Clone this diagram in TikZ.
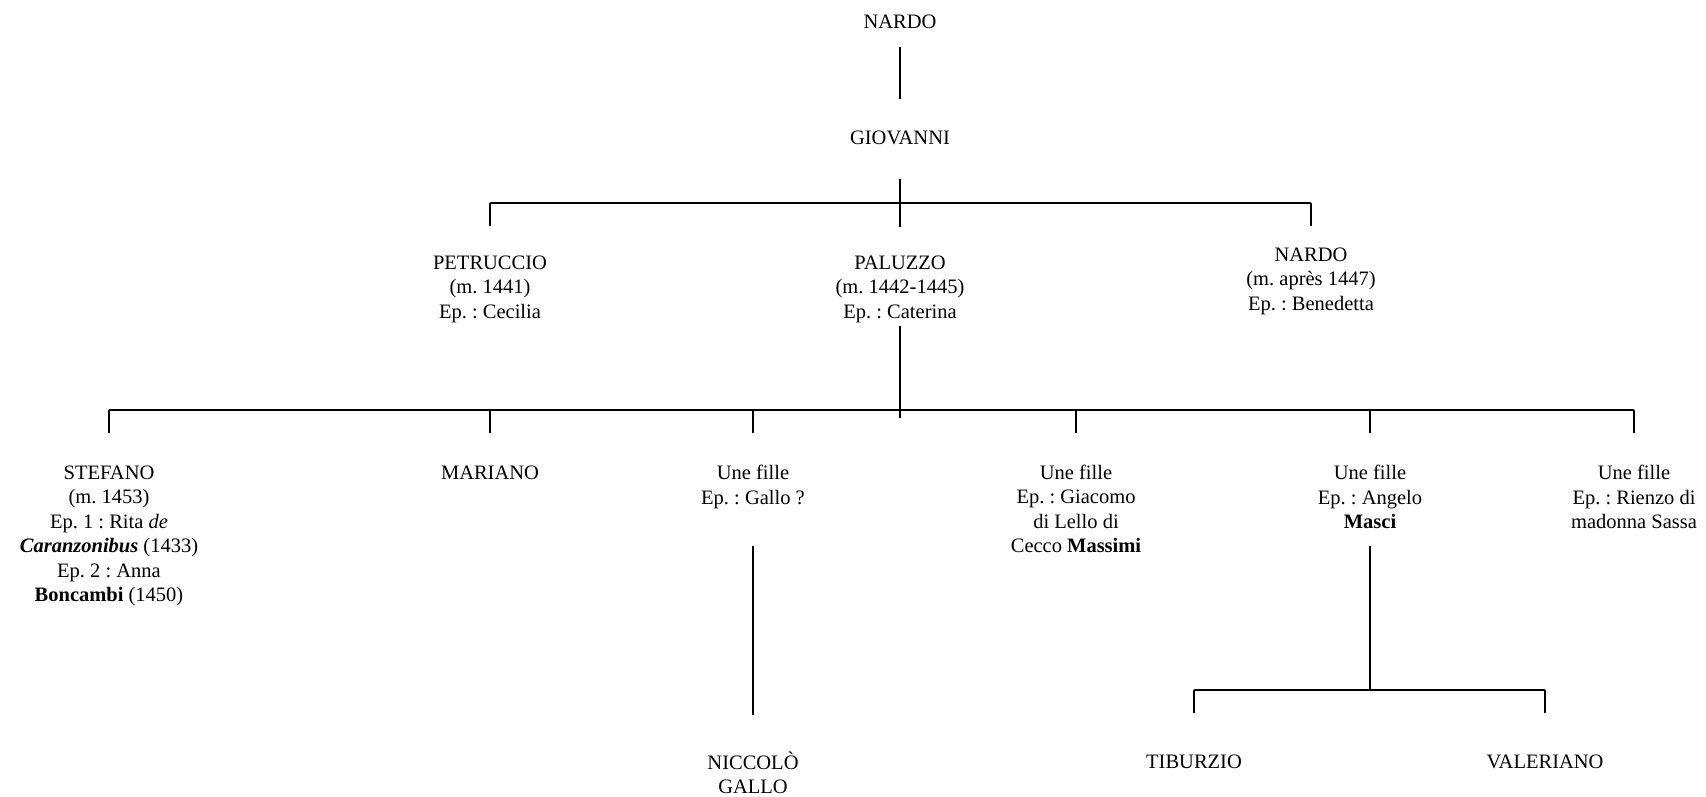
\documentclass[tikz,border=0pt]{standalone}
\usepackage{fontspec}
\setmainfont{Liberation Serif}
\frenchspacing
\begin{document}
\begin{tikzpicture}[
        x=1pt, y=1pt,
        person/.style={align=center, inner sep=0pt, font=\fontsize{20.5}{24.5}\selectfont},
        line/.style={line width=1.5pt, black}
    ]
        \useasboundingbox (0,0) rectangle (1706,797);

        % generations
        \node[person] (nardo) at (900,775) {NARDO};
        \node[person] (giovanni) at (900,659) {GIOVANNI};

        \node[person] (petruccio) at (490,508) {PETRUCCIO\\(m. 1441)\\Ep. : Cecilia};
        \node[person] (paluzzo) at (900,508) {PALUZZO\\(m. 1442-1445)\\Ep. : Caterina};
        \node[person] (nardob) at (1311,516) {NARDO\\(m. après 1447)\\Ep. : Benedetta};

        \node[person] (stefano) at (109,261) {STEFANO\\(m. 1453)\\Ep. 1 : Rita \textit{de}\\\textbf{\textit{Caranzonibus}} (1433)\\Ep. 2 : Anna\\\textbf{Boncambi} (1450)};
        \node[person] (mariano) at (490,324) {MARIANO};
        \node[person] (fillea) at (753,310) {Une fille\\Ep. : Gallo ?};
        \node[person] (filleb) at (1076,288) {Une fille\\Ep. : Giacomo\\di Lello di\\Cecco \textbf{Massimi}};
        \node[person] (fillec) at (1370,300) {Une fille\\Ep. : Angelo\\\textbf{Masci}};
        \node[person] (filled) at (1634,300) {Une fille\\Ep. : Rienzo di\\madonna Sassa};

        \node[person] (niccolo) at (753,24) {NICCOLÒ\\GALLO};
        \node[person] (tiburzio) at (1194,35) {TIBURZIO};
        \node[person] (valeriano) at (1545,35) {VALERIANO};

        % bars
        \coordinate (bara) at (900,594);
        \coordinate (barb) at (900,387);
        \coordinate (barc) at (1370,107);

        \draw[line] ([yshift=-25pt]nardo.center) -- ([yshift=39pt]giovanni.center);

        \draw[line] ([yshift=-41pt]giovanni.center) -- ++(0,-48);
        \draw[line] (petruccio |- bara) -- (nardob |- bara);
        \draw[line] (petruccio |- bara) -- ++(0,-23)
                    (nardob |- bara) -- ++(0,-23);

        \draw[line] ([yshift=-37pt]paluzzo.center) -- ++(0,-92);
        \draw[line] (stefano |- barb) -- (filled |- barb);
        \draw[line] (stefano |- barb) -- ++(0,-23)
                    (mariano |- barb) -- ++(0,-23)
                    (fillea |- barb) -- ++(0,-23)
                    (filleb |- barb) -- ++(0,-23)
                    (fillec |- barb) -- ++(0,-23)
                    (filled |- barb) -- ++(0,-23);

        \draw[line] ([yshift=-59pt]fillea.center) -- ([yshift=58pt]niccolo.center);

        \draw[line] ([yshift=-49pt]fillec.center) -- (barc);
        \draw[line] (tiburzio |- barc) -- (valeriano |- barc);
        \draw[line] (tiburzio |- barc) -- ++(0,-23)
                    (valeriano |- barc) -- ++(0,-23);
    \end{tikzpicture}
\end{document}
